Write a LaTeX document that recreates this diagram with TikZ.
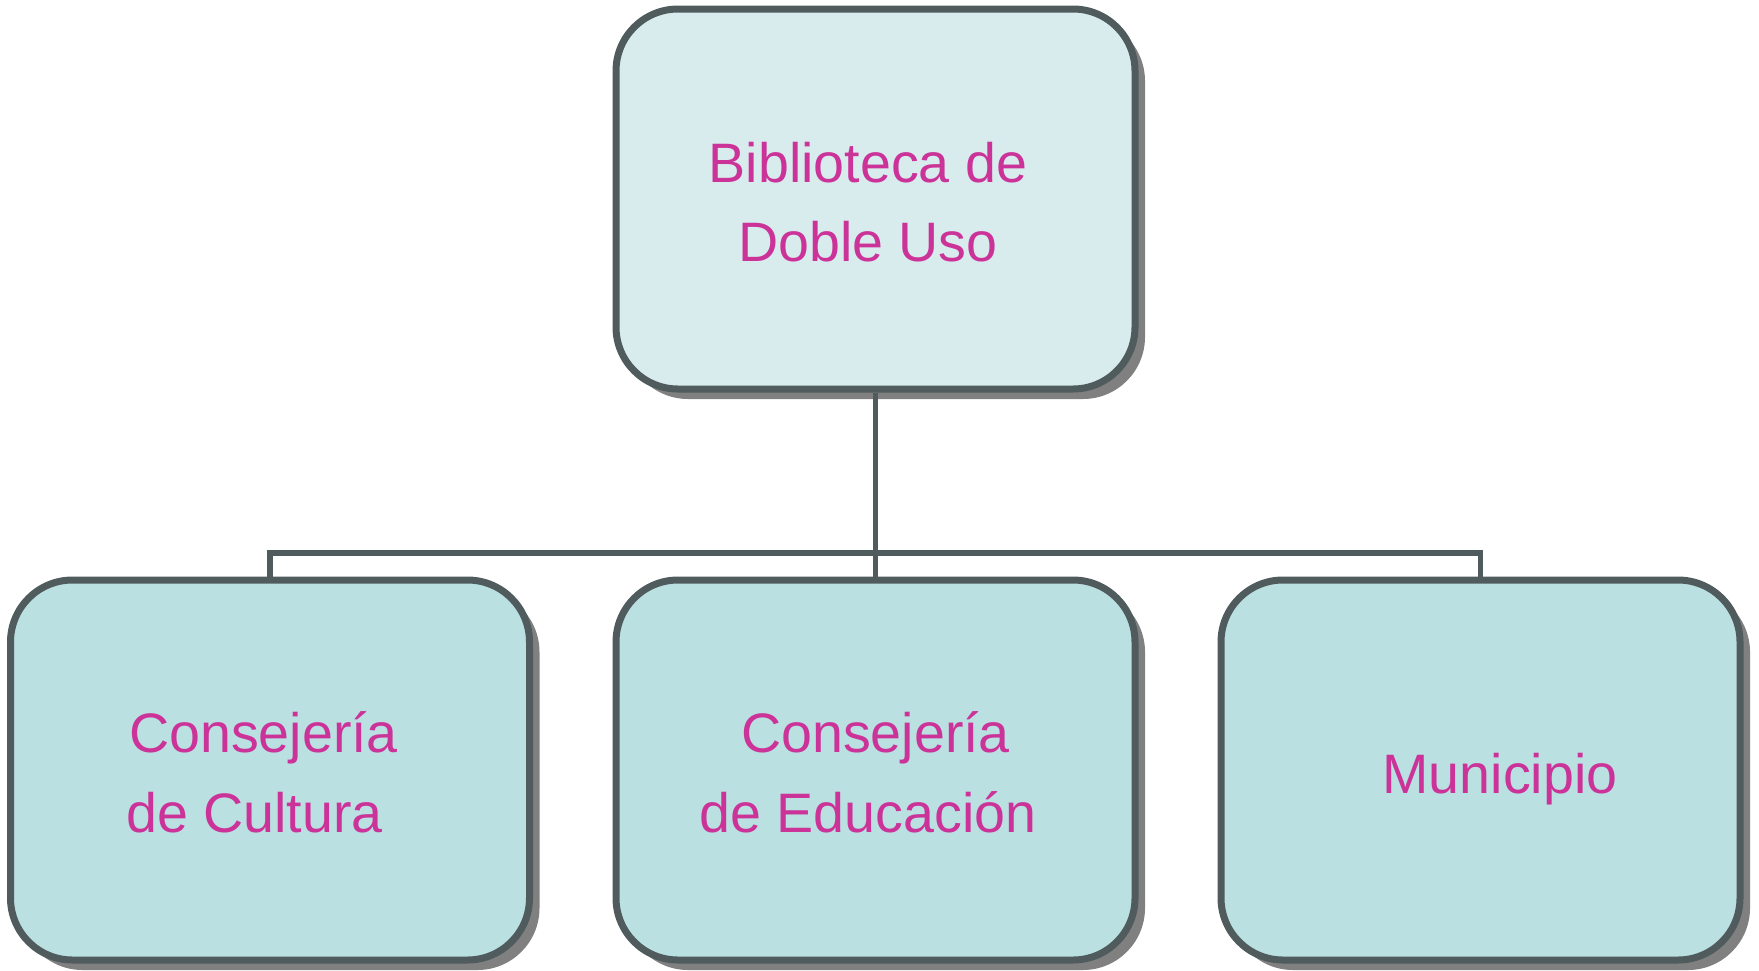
\documentclass[tikz,border=0pt]{standalone}
\usepackage{fontspec}
\setmainfont{Liberation Sans}
\usetikzlibrary{shadows}
\definecolor{bordc}{RGB}{79,91,92}
\definecolor{topfill}{RGB}{216,236,238}
\definecolor{botfill}{RGB}{186,224,226}
\definecolor{shadc}{RGB}{128,128,128}
\definecolor{txtc}{RGB}{204,51,153}
\tikzset{
  box/.style={draw=bordc, line width=7pt, rounded corners=62pt,
    minimum width=519pt, minimum height=380pt, inner sep=0pt,
    drop shadow={shadow xshift=10pt, shadow yshift=-10pt, fill=shadc, opacity=1}},
  conn/.style={draw=bordc, line width=5.5pt},
  lbl/.style={text=txtc, anchor=base, inner sep=0pt, font=\fontsize{55.6}{80}\selectfont}
}
\begin{document}
\begin{tikzpicture}[x=1pt,y=-1pt]
\useasboundingbox (0,0) rectangle (1759,970);
\coordinate (bus) at (0,553);
\node[box, fill=topfill] (top) at (875.5,199) {};
\node[box, fill=botfill] (cl) at (270,770) {};
\node[box, fill=botfill] (cm) at (875.5,770) {};
\node[box, fill=botfill] (cr) at (1480.5,770) {};
\draw[conn] (top.south) -- (top.south |- bus);
\draw[conn] (cl.north) -- (cl.north |- bus) -- (cr.north |- bus) -- (cr.north);
\draw[conn] (cm.north) -- (cm.north |- bus);
\node[lbl] (t1) at (868,182) {Biblioteca de};
\node[lbl] (t2) at (868,261) {Doble Uso};
\node[lbl] (l1) at (263.5,752) {Consejería};
\node[lbl] (l2) at (254.5,832) {de Cultura};
\node[lbl] (m1) at (875.5,752) {Consejería};
\node[lbl] (m2) at (868,832) {de Educación};
\node[lbl] (r1) at (1500,793) {Municipio};
\end{tikzpicture}
\end{document}
